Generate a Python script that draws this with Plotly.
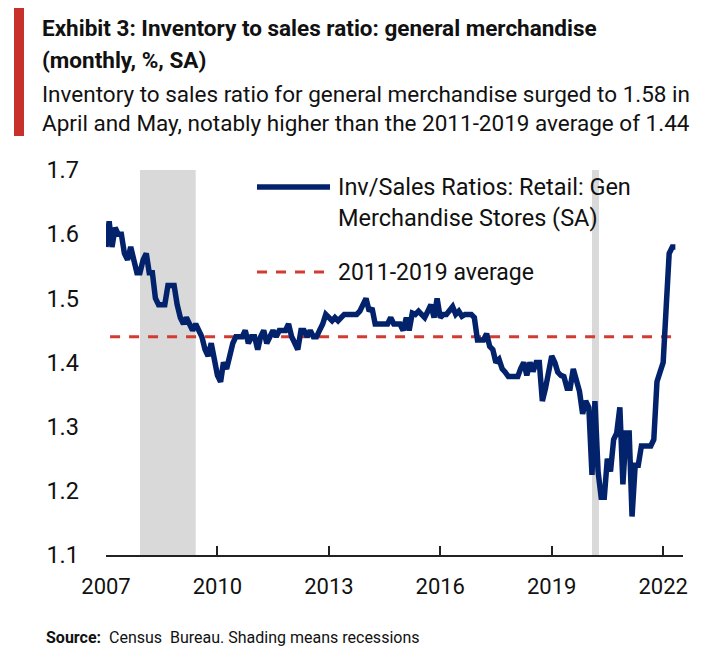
import plotly.graph_objects as go
import pandas as pd

# ---------------- data ----------------
start_month = "2007-01-01"
ratio_2007 = [1.58, 1.62, 1.58, 1.61, 1.60, 1.60, 1.57, 1.56, 1.58, 1.56, 1.54, 1.54]
ratio_2008 = [1.56, 1.57, 1.54, 1.54, 1.50, 1.49, 1.49, 1.49, 1.52, 1.52, 1.52, 1.49]
ratio_2009 = [1.47, 1.46, 1.47, 1.46, 1.45, 1.46, 1.45, 1.44, 1.42, 1.41, 1.43, 1.40]
ratio_2010 = [1.38, 1.37, 1.40, 1.39, 1.41, 1.43, 1.44, 1.44, 1.44, 1.45, 1.43, 1.44]
ratio_2011 = [1.44, 1.42, 1.44, 1.45, 1.43, 1.44, 1.45, 1.44, 1.45, 1.45, 1.45, 1.46]
ratio_2012 = [1.44, 1.43, 1.42, 1.45, 1.45, 1.44, 1.45, 1.44, 1.44, 1.45, 1.46, 1.475]
ratio_2013 = [1.47, 1.465, 1.47, 1.465, 1.47, 1.475, 1.475, 1.475, 1.475, 1.475, 1.48, 1.49]
ratio_2014 = [1.50, 1.48, 1.485, 1.46, 1.46, 1.46, 1.46, 1.46, 1.47, 1.46, 1.46, 1.46]
ratio_2015 = [1.45, 1.47, 1.45, 1.477, 1.475, 1.48, 1.475, 1.47, 1.48, 1.49, 1.47, 1.50]
ratio_2016 = [1.47, 1.475, 1.475, 1.48, 1.487, 1.475, 1.48, 1.472, 1.475, 1.475, 1.475, 1.47]
ratio_2017 = [1.435, 1.435, 1.435, 1.445, 1.425, 1.42, 1.40, 1.405, 1.39, 1.385, 1.378, 1.378]
ratio_2018 = [1.378, 1.378, 1.39, 1.40, 1.38, 1.40, 1.386, 1.40, 1.40, 1.34, 1.36, 1.39]
ratio_2019 = [1.41, 1.40, 1.385, 1.38, 1.378, 1.36, 1.36, 1.39, 1.37, 1.355, 1.32, 1.34]
ratio_2020 = [1.33, 1.225, 1.34, 1.23, 1.19, 1.19, 1.25, 1.23, 1.28, 1.29, 1.33, 1.21]
ratio_2021 = [1.29, 1.29, 1.16, 1.24, 1.24, 1.27, 1.27, 1.27, 1.27, 1.28, 1.37, 1.385]
ratio_2022 = [1.40, 1.49, 1.57, 1.58, 1.58]

avg_2011_2019 = 1.44
avg_line_span = ("2007-02-10", "2022-06-01")
recessions = [("2007-12-01", "2009-06-01"), ("2020-02-01", "2020-04-10")]
x_tick_years = [2007, 2010, 2013, 2016, 2019, 2022]
y_ticks = [1.1, 1.2, 1.3, 1.4, 1.5, 1.6, 1.7]

series_name = "Inv/Sales Ratios: Retail: Gen<br>Merchandise Stores (SA)"
avg_name = "2011-2019 average"
title_1 = "Exhibit 3: Inventory to sales ratio: general merchandise"
title_2 = "(monthly, %, SA)"
subtitle_1 = "Inventory to sales ratio for general merchandise surged to 1.58 in"
subtitle_2 = "April and May, notably higher than the 2011-2019 average of 1.44"
source_text = "<b>Source:</b>  Census  Bureau. Shading means recessions"

ratios = (ratio_2007 + ratio_2008 + ratio_2009 + ratio_2010 + ratio_2011 + ratio_2012
          + ratio_2013 + ratio_2014 + ratio_2015 + ratio_2016 + ratio_2017 + ratio_2018
          + ratio_2019 + ratio_2020 + ratio_2021 + ratio_2022)
dates = pd.date_range(start_month, periods=len(ratios), freq="MS")

# ---------------- layout helpers ----------------
# The page body adds an 8px margin; positions below are page pixels.
OFF = 8
W, H = 725 - OFF, 665 - OFF
PL, PR, PT, PB = 106, 683, 170, 555          # plot area in page pixels
def px(x):
    return (x - PL) / (PR - PL)
def py(y):
    return (PB - y) / (PB - PT)

NAVY = "#03226c"
RED = "#d23b30"
FONT = "Roboto, Liberation Sans, sans-serif"

fig = go.Figure()

for a, b in recessions:
    fig.add_vrect(x0=a, x1=b, fillcolor="#d9d9d9", line_width=0, layer="below")

fig.add_trace(go.Scatter(
    x=list(avg_line_span), y=[avg_2011_2019, avg_2011_2019],
    mode="lines", line=dict(color=RED, width=3, dash="10px,9px"),
    name=avg_name, showlegend=False, hoverinfo="skip"))

fig.add_trace(go.Scatter(
    x=dates, y=ratios, mode="lines",
    line=dict(color=NAVY, width=5.5, shape="linear"),
    name=series_name, showlegend=False))

# legend (manual)
fig.add_shape(type="line", xref="paper", yref="paper",
              x0=px(257), x1=px(330), y0=py(187), y1=py(187),
              line=dict(color=NAVY, width=5.5))
fig.add_shape(type="line", xref="paper", yref="paper",
              x0=px(257), x1=px(330), y0=py(272), y1=py(272),
              line=dict(color=RED, width=3, dash="10px,9px"))
fig.add_annotation(xref="paper", yref="paper", x=px(336), y=py(202),
                   text=series_name, showarrow=False, xanchor="left", yanchor="middle",
                   align="left", font=dict(family=FONT, size=23.5, color="#111"))
fig.add_annotation(xref="paper", yref="paper", x=px(336), y=py(272),
                   text=avg_name, showarrow=False, xanchor="left", yanchor="middle",
                   align="left", font=dict(family=FONT, size=23, color="#111"))

# title block
fig.add_shape(type="rect", xref="paper", yref="paper",
              x0=px(14), x1=px(24), y0=py(4), y1=py(136),
              fillcolor="#c8312b", line_width=0)
for txt, yy, bold in [(title_1, 28, True), (title_2, 60, True),
                      (subtitle_1, 94, False), (subtitle_2, 123, False)]:
    fig.add_annotation(xref="paper", yref="paper", x=px(40), y=py(yy),
                       text=f"<b>{txt}</b>" if bold else txt, showarrow=False,
                       xanchor="left", yanchor="middle",
                       font=dict(family=FONT, size=22.5 if bold else 22.5, color="#111"))
fig.add_annotation(xref="paper", yref="paper", x=px(44), y=py(637),
                   text=source_text, showarrow=False, xanchor="left", yanchor="middle",
                   font=dict(family=FONT, size=16, color="#111"))

fig.update_layout(
    width=W, height=H,
    margin=dict(l=PL - OFF, r=W - (PR - OFF), t=PT - OFF, b=H - (PB - OFF)),
    paper_bgcolor="white", plot_bgcolor="white",
    showlegend=False,
    font=dict(family=FONT, size=21, color="#111"),
)
fig.update_xaxes(
    type="date",
    range=["2007-01-01", "2022-07-15"],
    tickvals=[f"{y}-01-01" for y in x_tick_years],
    ticktext=[str(y) for y in x_tick_years],
    showgrid=False, zeroline=False,
    showline=True, linecolor="#222", linewidth=2,
    ticks="inside", ticklen=9, tickwidth=1.5, tickcolor="#222",
    ticklabelstandoff=11,
    tickfont=dict(family=FONT, size=22, color="#111"),
)
fig.update_yaxes(
    range=[1.1, 1.7],
    tickvals=y_ticks, ticktext=[f"{v:.1f}" for v in y_ticks],
    showgrid=False, zeroline=False, showline=False, ticks="",
    ticklabelstandoff=26,
    tickfont=dict(family=FONT, size=23.5, color="#111"),
)

fig.write_html("out.html")
